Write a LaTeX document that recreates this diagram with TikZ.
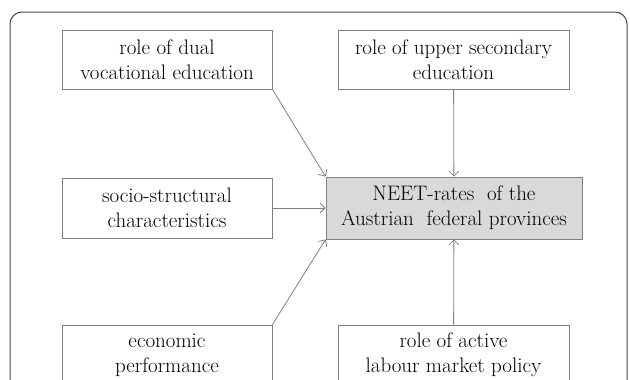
\documentclass[tikz,border=0pt]{standalone}
\usetikzlibrary{arrows.meta}
\definecolor{linegray}{RGB}{128,128,128}
\definecolor{framegray}{RGB}{70,70,70}
\definecolor{neetfill}{RGB}{217,217,217}

\begin{document}
\begin{tikzpicture}[x=1pt,y=-1pt,>={Straight Barb[length=5pt,width=10pt]},
    box/.style={draw=linegray,line width=0.8pt,minimum width=210pt,minimum height=59pt,
        align=center,inner sep=0pt,font=\fontsize{21}{25}\selectfont},
    link/.style={->,draw=linegray,line width=0.8pt}]
    \useasboundingbox (0,0) rectangle (630,380);
    \clip (0,0) rectangle (630,380);
    \draw[framegray,line width=1pt,rounded corners=12pt] (10,12) rectangle (627,420);

    \node[box] (dual) at (167,59.5) {role of dual\\vocational education};
    \node[box,minimum width=231pt] (upper) at (453.5,59.5) {role of upper secondary\\education};
    \node[box,minimum height=60pt] (socio) at (167,208) {socio-structural\\characteristics};
    \node[box,fill=neetfill,minimum width=256pt,minimum height=62pt] (neet) at (454,208) {NEET-rates\ \ of the\\Austrian\ \ federal provinces};
    \node[box,minimum height=60pt] (econ) at (167,355) {economic\\performance};
    \node[box,minimum width=231pt,minimum height=60pt] (active) at (453.5,355) {role of active\\labour market policy};

    \draw[link] (dual.south east) -- (neet.north west);
    \draw[link] (upper) -- (neet);
    \draw[link] (socio) -- (neet);
    \draw[link] (econ.north east) -- (neet.south west);
    \draw[link] (active) -- (neet);
\end{tikzpicture}
\end{document}
